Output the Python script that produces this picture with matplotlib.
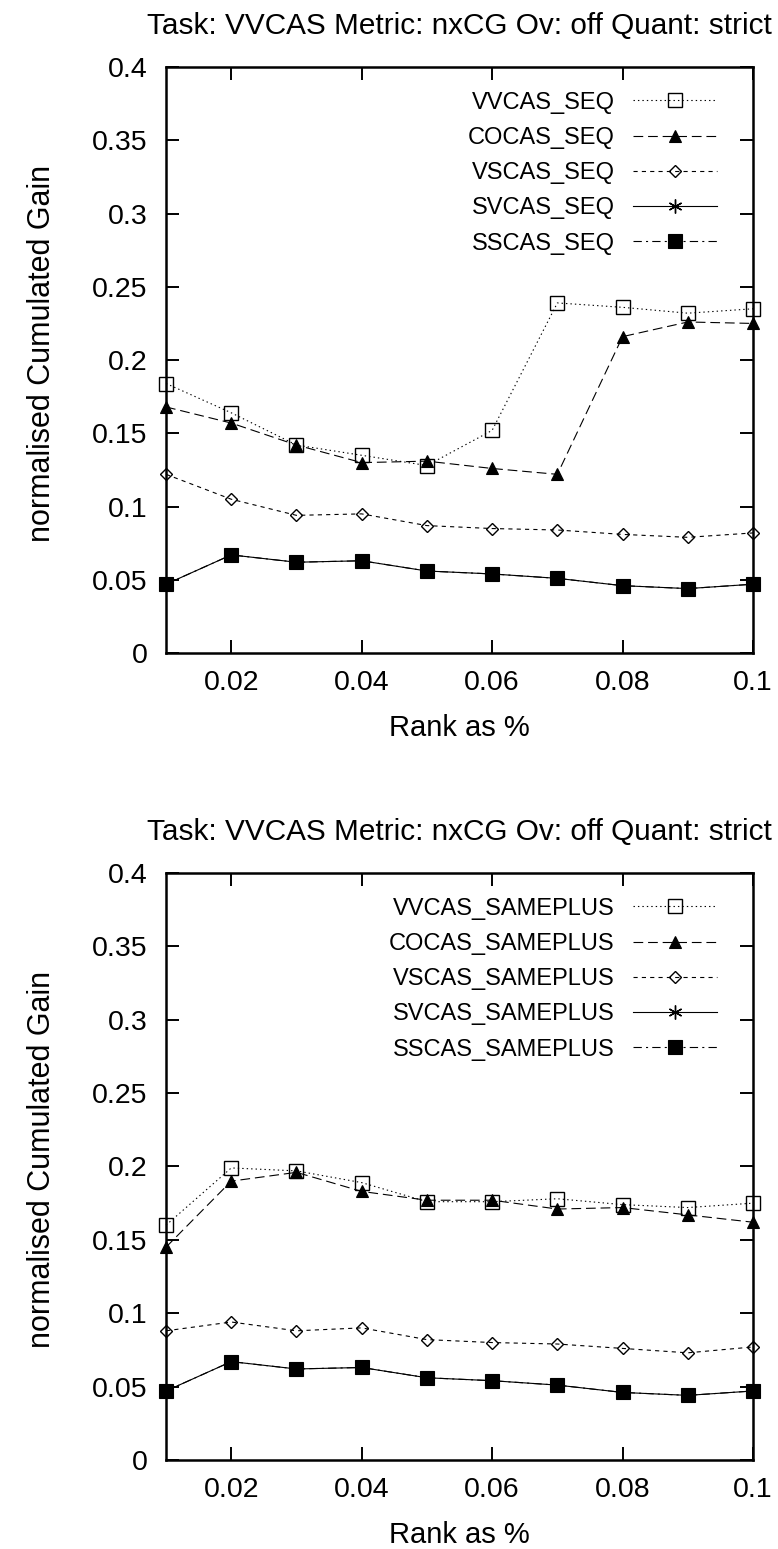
import matplotlib
matplotlib.use("Agg")
import matplotlib.pyplot as plt

# ============================================================================
# DATA
# ============================================================================

ranks = [0.01, 0.02, 0.03, 0.04, 0.05, 0.06, 0.07, 0.08, 0.09, 0.10]

# top panel: *_SEQ runs
vvcas_seq = [0.184, 0.164, 0.142, 0.135, 0.128, 0.152, 0.239, 0.236, 0.232, 0.235]
cocas_seq = [0.168, 0.157, 0.142, 0.130, 0.131, 0.126, 0.122, 0.216, 0.226, 0.225]
vscas_seq = [0.122, 0.105, 0.094, 0.095, 0.087, 0.085, 0.084, 0.081, 0.079, 0.082]
svcas_seq = [0.047, 0.067, 0.062, 0.063, 0.056, 0.054, 0.051, 0.046, 0.044, 0.047]
sscas_seq = [0.047, 0.067, 0.062, 0.063, 0.056, 0.054, 0.051, 0.046, 0.044, 0.047]

# bottom panel: *_SAMEPLUS runs
vvcas_sp = [0.160, 0.199, 0.197, 0.189, 0.176, 0.176, 0.178, 0.174, 0.172, 0.175]
cocas_sp = [0.145, 0.190, 0.196, 0.183, 0.177, 0.177, 0.171, 0.172, 0.167, 0.162]
vscas_sp = [0.088, 0.094, 0.088, 0.090, 0.082, 0.080, 0.079, 0.076, 0.073, 0.077]
svcas_sp = [0.047, 0.067, 0.062, 0.063, 0.056, 0.054, 0.051, 0.046, 0.044, 0.047]
sscas_sp = [0.047, 0.067, 0.062, 0.063, 0.056, 0.054, 0.051, 0.046, 0.044, 0.047]

run_names = ["VVCAS", "COCAS", "VSCAS", "SVCAS", "SSCAS"]

TITLE = "Task: VVCAS Metric: nxCG Ov: off Quant: strict"
XLABEL = "Rank as %"
YLABEL = "normalised Cumulated Gain"

x_ticks = [0.02, 0.04, 0.06, 0.08, 0.1]
x_tick_labels = ["0.02", "0.04", "0.06", "0.08", "0.1"]
y_ticks = [0, 0.05, 0.1, 0.15, 0.2, 0.25, 0.3, 0.35, 0.4]
y_tick_labels = ["0", "0.05", "0.1", "0.15", "0.2", "0.25", "0.3", "0.35", "0.4"]

# ============================================================================
# STYLE (gnuplot look: black lines, different dashes and point types)
# ============================================================================

plt.rcParams['font.family'] = ['Liberation Sans', 'DejaVu Sans']
plt.rcParams['lines.scale_dashes'] = False

styles = [
    dict(dashes=(1, 2.2), marker='s', ms=10, mfc='none', mew=1.0),
    dict(dashes=(7, 3.5), marker='^', ms=9, mfc='black', mew=0.8),
    dict(dashes=(3, 3), marker='D', ms=6.4, mfc='none', mew=1.0),
    dict(linestyle='-', marker=(6, 2, 0), ms=10, mew=1.0),
    dict(dashes=(6, 3, 1.5, 3), marker='s', ms=9.5, mfc='black', mew=0.8),
]


def draw_panel(ax, series, suffix):
    for name, values, st in zip(run_names, series, styles):
        ax.plot(ranks, values, color='black', lw=0.8, mec='black',
                clip_on=False, label=f"{name}_{suffix}", **st)

    ax.set_xlim(0.01, 0.1)
    ax.set_ylim(0, 0.4)
    ax.set_xticks(x_ticks)
    ax.set_xticklabels(x_tick_labels)
    ax.set_yticks(y_ticks)
    ax.set_yticklabels(y_tick_labels)
    ax.tick_params(direction='in', length=9.5, width=1.4, labelsize=20.5,
                   top=True, right=True)
    ax.tick_params(axis='x', pad=12.5)
    ax.tick_params(axis='y', pad=13.5)
    for sp in ax.spines.values():
        sp.set_linewidth(1.8)

    ax.set_title(TITLE, fontsize=21.4, pad=24)
    ax.set_xlabel(XLABEL, fontsize=21)
    ax.set_ylabel(YLABEL, fontsize=22)
    ax.xaxis.set_label_coords(0.5, -0.104)
    ax.yaxis.set_label_coords(-0.186, 0.512)

    ax.legend(loc='upper right', bbox_to_anchor=(0.939, 0.958),
              frameon=False, markerfirst=False, fontsize=17,
              handlelength=3.55, handletextpad=0.8, labelspacing=0.56,
              borderpad=0, borderaxespad=0, numpoints=1)


fig = plt.figure(figsize=(7.78, 15.49), dpi=100)
ax_top = fig.add_axes([0.2134, 0.5784, 0.7545, 0.3783])
ax_bot = fig.add_axes([0.2134, 0.0575, 0.7545, 0.3789])

draw_panel(ax_top, [vvcas_seq, cocas_seq, vscas_seq, svcas_seq, sscas_seq], "SEQ")
draw_panel(ax_bot, [vvcas_sp, cocas_sp, vscas_sp, svcas_sp, sscas_sp], "SAMEPLUS")

fig.savefig("out.png", dpi=100)
